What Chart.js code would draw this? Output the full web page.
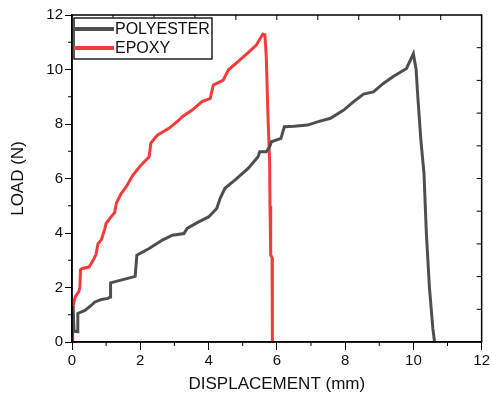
<!DOCTYPE html>
<html>
<head>
<meta charset="utf-8">
<script src="https://cdn.jsdelivr.net/npm/chart.js@4/dist/chart.umd.min.js"></script>
<style>
  html, body { margin: 0; padding: 0; background: #fff; }
  #wrap { width: 492px; height: 395px; }
</style>
</head>
<body>
<div id="wrap"><canvas id="c"></canvas></div>
<script>
// displacement (mm) / load (N)
const polyX = [0, 0.03, 0.06, 0.16, 0.17, 0.38, 0.57, 0.67, 0.86, 1.05, 1.12, 1.13, 1.49, 1.85, 1.9,
  2.26, 2.65, 2.94, 3.28, 3.37, 3.71, 4.0, 4.24, 4.34, 4.48, 4.77, 5.16, 5.45, 5.5, 5.69, 5.79, 5.84,
  6.12, 6.22, 6.51, 6.9, 7.19, 7.57, 7.96, 8.25, 8.54, 8.83, 9.12, 9.41, 9.8, 10.0,
  10.08, 10.13, 10.22, 10.31, 10.38, 10.47, 10.57, 10.62];
const polyY = [0, 1.3, 0.4, 0.38, 1.05, 1.16, 1.35, 1.47, 1.56, 1.6, 1.65, 2.17, 2.29, 2.41, 3.19,
  3.43, 3.74, 3.92, 3.98, 4.17, 4.41, 4.59, 4.9, 5.27, 5.64, 5.94, 6.37, 6.8, 6.98, 6.98, 7.16, 7.35,
  7.47, 7.9, 7.92, 7.96, 8.08, 8.21, 8.51, 8.82, 9.1, 9.18, 9.49, 9.74, 10.04, 10.58,
  10.0, 9.0, 7.4, 6.2, 4.0, 2.0, 0.5, 0];

const epoxyX = [0, 0.02, 0.03, 0.09, 0.2, 0.23, 0.25, 0.3, 0.5, 0.55, 0.62, 0.7, 0.76, 0.86, 0.96,
  1.0, 1.15, 1.25, 1.3, 1.44, 1.59, 1.78, 2.02, 2.26, 2.31, 2.5, 2.84, 3.13, 3.23, 3.52, 3.81,
  4.05, 4.14, 4.43, 4.58, 4.87, 5.16, 5.4, 5.59, 5.65, 5.69, 5.74, 5.79, 5.8, 5.82, 5.86, 5.87];
const epoxyY = [0, 0.8, 1.3, 1.65, 1.85, 2.0, 2.65, 2.7, 2.75, 2.85, 3.0, 3.2, 3.6, 3.75, 4.15,
  4.35, 4.6, 4.75, 5.1, 5.45, 5.7, 6.12, 6.49, 6.8, 7.3, 7.59, 7.84, 8.14, 8.27, 8.51, 8.82,
  8.94, 9.43, 9.61, 9.98, 10.3, 10.62, 10.9, 11.3, 11.27, 10.5, 8.3, 6.6, 5.0, 3.2, 3.1, 0];

const seriesNames = ['POLYESTER', 'EPOXY'];
const minorTicks = [1, 3, 5, 7, 9, 11];
const frameTicks = [1.2, 2.4, 3.6, 4.8, 6.0, 7.2, 8.4, 9.6, 10.8];

const toPoints = (xs, ys) => xs.map((x, i) => ({ x, y: ys[i] }));

const FONT = '"Liberation Sans", Arial, sans-serif';
const INK = '#111';

const framePlugin = {
  id: 'framePlugin',
  afterDatasetsDraw(chart) {
    const { ctx, chartArea: a, scales: { x, y } } = chart;
    ctx.save();
    ctx.strokeStyle = '#000';
    ctx.lineWidth = 1.5;
    ctx.strokeRect(a.left, a.top, a.right - a.left, a.bottom - a.top);

    ctx.lineWidth = 1;
    ctx.beginPath();
    minorTicks.forEach(v => {
      const px = x.getPixelForValue(v);
      ctx.moveTo(px, a.bottom); ctx.lineTo(px, a.bottom + 4);
      const py = y.getPixelForValue(v);
      ctx.moveTo(a.left, py); ctx.lineTo(a.left - 4, py);
    });
    frameTicks.forEach(v => {
      const px = x.getPixelForValue(v);
      ctx.moveTo(px, a.top); ctx.lineTo(px, a.top + 5);
      const py = y.getPixelForValue(v);
      ctx.moveTo(a.right, py); ctx.lineTo(a.right - 5, py);
    });
    ctx.stroke();

    // legend box inside the plot
    const lx = a.left + 2, ly = a.top + 3, lw = 138, lh = 41;
    ctx.fillStyle = '#fff';
    ctx.fillRect(lx, ly, lw, lh);
    ctx.lineWidth = 1.5;
    ctx.strokeStyle = '#222';
    ctx.strokeRect(lx, ly, lw, lh);
    ctx.font = '16px ' + FONT;
    ctx.textBaseline = 'middle';
    chart.data.datasets.forEach((ds, i) => {
      const cy = ly + 11 + i * 19;
      ctx.strokeStyle = ds.borderColor;
      ctx.lineWidth = 4;
      ctx.beginPath();
      ctx.moveTo(lx, cy); ctx.lineTo(lx + 40, cy);
      ctx.stroke();
      ctx.fillStyle = INK;
      ctx.fillText(ds.label, lx + 41, cy + 1);
    });
    ctx.restore();
  }
};

new Chart(document.getElementById('c'), {
  type: 'scatter',
  data: {
    datasets: [
      { label: seriesNames[0], data: toPoints(polyX, polyY), borderColor: '#4f4f4f', showLine: true,
        borderWidth: 3, pointRadius: 0, tension: 0 },
      { label: seriesNames[1], data: toPoints(epoxyX, epoxyY), borderColor: '#f23c3c', showLine: true,
        borderWidth: 3, pointRadius: 0, tension: 0 },
    ],
  },
  options: {
    responsive: true,
    maintainAspectRatio: false,
    animation: false,
    layout: { autoPadding: false, padding: { top: 15, right: 6, bottom: 0, left: 8 } },
    plugins: { legend: { display: false }, tooltip: { enabled: false } },
    scales: {
      x: {
        type: 'linear', min: 0, max: 12,
        ticks: { stepSize: 2, color: INK, padding: 2, font: { family: FONT, size: 15 } },
        grid: { drawOnChartArea: false, tickLength: 8, color: '#000' },
        border: { color: '#000', width: 1.5 },
        title: { display: true, text: 'DISPLACEMENT (mm)', color: INK, padding: 0,
                 font: { family: FONT, size: 17 } },
        afterFit: s => { s.height = 53; },
      },
      y: {
        type: 'linear', min: 0, max: 12,
        ticks: { stepSize: 2, color: INK, padding: 2, font: { family: FONT, size: 15 } },
        grid: { drawOnChartArea: false, tickLength: 7, color: '#000' },
        border: { color: '#000', width: 1.5 },
        title: { display: true, text: 'LOAD (N)', color: INK, padding: 0,
                 font: { family: FONT, size: 17 } },
        afterFit: s => { s.width = 64; },
      },
    },
  },
  plugins: [framePlugin],
});
</script>
</body>
</html>
